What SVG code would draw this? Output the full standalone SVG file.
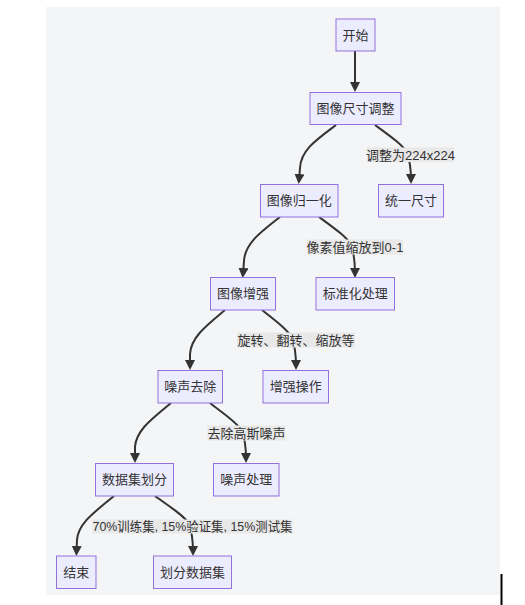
<svg xmlns="http://www.w3.org/2000/svg" width="525" height="605" viewBox="0 0 525 605">
<defs>
<marker id="arr" viewBox="0 0 10 10" refX="6" refY="5" markerWidth="10" markerHeight="10" markerUnits="userSpaceOnUse" orient="auto">
<path d="M0,0 L10,5 L0,10 z" fill="#333"/>
</marker>
</defs>
<style>
.node rect{fill:#ECECFF;stroke:#9370DB;stroke-width:1}
.node text,.lbl text{font-family:"Liberation Sans","Noto Sans CJK SC",sans-serif;font-size:13px;fill:#333;text-anchor:middle}
.edge{fill:none;stroke:#333;stroke-width:2;marker-end:url(#arr)}
.lbl rect{fill:#e8e8e8}
</style>
<rect x="46" y="7" width="454" height="588" fill="#f4f5f7"/>
<line x1="501.5" y1="574" x2="501.5" y2="605" stroke="#000" stroke-width="2"/>
<g id="connectors">
<path class="edge" d="M355,51 L355,88"/>
<path class="edge" d="M336,125 C316,140 301,150 300,168 L299,180"/>
<path class="edge" d="M375,125 C390,136 403,145 407,153 C410,161 411,170 411,180"/>
<path class="edge" d="M280,217 C261,232 245,243 244,261 L243,274"/>
<path class="edge" d="M319,217 C334,228 347,237 351,245 C354,253 355,262 355,274"/>
<path class="edge" d="M225,310 C207,325 191,337 190,354 L190,366"/>
<path class="edge" d="M262,310 C276,321 288,330 292,338 C295,346 296,355 296,366"/>
<path class="edge" d="M171,403 C153,418 136,430 135,447 L135,459"/>
<path class="edge" d="M210,403 C224,414 238,423 242,431 C245,439 246,448 246,459"/>
<path class="edge" d="M114,496 C96,511 78,523 77,540 L76.5,552"/>
<path class="edge" d="M155,496 C170,507 185,516 189,524 C192,532 193,541 193,552"/>
</g>
<g id="labels">
<g class="lbl"><rect x="367" y="147.5" width="87" height="14.5"/><text x="410.5" y="159.5">调整为224x224</text></g>
<g class="lbl"><rect x="307" y="239.5" width="96" height="15"/><text x="355" y="251.5">像素值缩放到0-1</text></g>
<g class="lbl"><rect x="237" y="332.5" width="118" height="15"/><text x="296" y="344.5">旋转、翻转、缩放等</text></g>
<g class="lbl"><rect x="207.5" y="425.5" width="78" height="15"/><text x="246.5" y="437.5">去除高斯噪声</text></g>
<g class="lbl"><rect x="92.5" y="519.5" width="200" height="14"/><text x="192.5" y="531" textLength="200" lengthAdjust="spacingAndGlyphs">70%训练集, 15%验证集, 15%测试集</text></g>
</g>
<g id="n_start" class="node"><rect x="336" y="19" width="39" height="32"/><text x="355.5" y="39.5">开始</text></g>
<g id="n_resize" class="node"><rect x="310" y="92.5" width="91" height="32"/><text x="355.5" y="113">图像尺寸调整</text></g>
<g id="n_norm" class="node"><rect x="260.5" y="184.5" width="77.5" height="32.5"/><text x="299.25" y="205">图像归一化</text></g>
<g id="n_unify" class="node"><rect x="378.5" y="184.5" width="65" height="32.5"/><text x="411" y="205">统一尺寸</text></g>
<g id="n_aug" class="node"><rect x="210.5" y="277.5" width="65" height="32.5"/><text x="243" y="298">图像增强</text></g>
<g id="n_std" class="node"><rect x="316" y="277.5" width="78.5" height="32.5"/><text x="355.25" y="298">标准化处理</text></g>
<g id="n_denoise" class="node"><rect x="158" y="370.5" width="64.5" height="32.5"/><text x="190.25" y="391">噪声去除</text></g>
<g id="n_augop" class="node"><rect x="263" y="370.5" width="65.5" height="32.5"/><text x="295.75" y="391">增强操作</text></g>
<g id="n_split" class="node"><rect x="95.5" y="463.5" width="78" height="32.5"/><text x="134.5" y="484">数据集划分</text></g>
<g id="n_noise" class="node"><rect x="213.5" y="463.5" width="65.5" height="32.5"/><text x="246.25" y="484">噪声处理</text></g>
<g id="n_end" class="node"><rect x="56.5" y="556" width="39.5" height="32.5"/><text x="76.25" y="576.5">结束</text></g>
<g id="n_splitds" class="node"><rect x="153.5" y="556" width="78" height="32.5"/><text x="192.5" y="576.5">划分数据集</text></g>
</svg>
